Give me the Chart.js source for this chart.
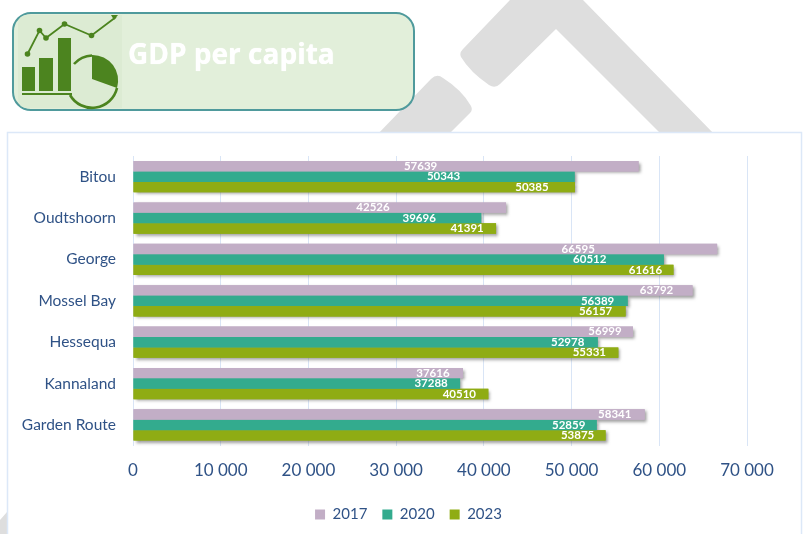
<!DOCTYPE html>
<html>
<head>
<meta charset="utf-8">
<title>GDP per capita</title>
<script src="https://cdn.jsdelivr.net/npm/chart.js@4"></script>
<style>
    html, body { margin: 0; padding: 0; background: #fff; overflow: hidden; }
    #page { position: relative; width: 805px; height: 534px; overflow: hidden; }
    #backdrop, #chart { position: absolute; left: 0; top: 0; }
    #heading {
        position: absolute; left: 128px; top: 34px;
        font: bold 28px "Open Sans", sans-serif; color: #fff;
        text-shadow: 0 0 1px #fff;
    }
</style>
</head>
<body>
<div id="page">
    <svg id="backdrop" width="805" height="534">
        <!-- watermark behind the panel -->
        <path d="M510 0 L583 0 L717 137 L664 137 L556 29 L500 84 Q495 89 489 85 Q470 72 461 57 Q459 53 463 49 Z" fill="#dedede"/>
        <path d="M375 137 L431 79 Q437 73 443 78 Q462 90 471 106 Q473 110 470 113 L446 137 Z" fill="#dedede"/>
        <path d="M0 520 L14 504 L14 534 L0 534 Z" fill="#dedede"/>
        <!-- panel -->
        <rect x="7.5" y="132.5" width="794" height="410" fill="#fff" stroke="#dce8f8" stroke-width="1.5"/>
        <!-- header box -->
        <rect x="13" y="13" width="401" height="97" rx="18" fill="#e2efda" stroke="#4f9a9c" stroke-width="2"/>
        <path d="M18 24 Q18 15 28 15 L122 15 L122 108 L28 108 Q18 108 18 98 Z" fill="#dcebd3"/>
        <!-- icon -->
        <g fill="#4c841f" stroke="none">
            <rect x="22" y="67" width="13" height="24"/>
            <rect x="39" y="58" width="14" height="33"/>
            <rect x="58" y="38" width="13" height="53"/>
            <rect x="22" y="93" width="50" height="2"/>
            <circle cx="27.5" cy="54" r="2.8"/><circle cx="39.5" cy="30.5" r="2.8"/>
            <circle cx="46" cy="38" r="2.8"/><circle cx="64.5" cy="24" r="2.8"/>
            <circle cx="91.5" cy="35.5" r="2.8"/>
            <path d="M92 55 A25.5 25.5 0 0 1 117 88 L92 79 Z"/>
            <path d="M118 15 L111 15 L114 20 Z"/>
        </g>
        <path d="M27.5 54 L39.5 30.5 L46 38 L64.5 24 L91.5 35.5 L116 17" fill="none" stroke="#4c841f" stroke-width="1.8"/>
        <path d="M74 64 A25.5 25.5 0 0 1 92 55.5 M117 88 A25.5 25.5 0 0 1 70 95" fill="none" stroke="#4c841f" stroke-width="2.6"/>
    </svg>
    <canvas id="chart" width="805" height="534"></canvas>
    <div id="heading">GDP per capita</div>
</div>
<script>
    const categories = ['Bitou', 'Oudtshoorn', 'George', 'Mossel Bay', 'Hessequa', 'Kannaland', 'Garden Route'];
    const seriesNames = ['2017', '2020', '2023'];
    const values2017 = [57639, 42526, 66595, 63792, 56999, 37616, 58341];
    const values2020 = [50343, 39696, 60512, 56389, 52978, 37288, 52859];
    const values2023 = [50385, 41391, 61616, 56157, 55331, 40510, 53875];

    // the labels in the original are hand-dragged, px left of the bar end
    const labelShift2017 = [218, 133, 139, 36, 28, 30, 30];
    const labelShift2020 = [131, 62, 74, 30, 30, 29, 28];
    const labelShift2023 = [43, 29, 28, 30, 29, 29, 28];
    const labelShifts = [labelShift2017, labelShift2020, labelShift2023];

    const inkBlue = '#2f5286';

    // first pass paints every bar with a shadow, the normal draw then covers
    // the shadows that would fall on a neighbour bar
    const barShadow = {
        id: 'barShadow',
        beforeDatasetsDraw(chart) {
            const ctx = chart.ctx;
            ctx.save();
            ctx.shadowColor = 'rgba(90,90,90,0.6)';
            ctx.shadowBlur = 3;
            ctx.shadowOffsetX = 2;
            ctx.shadowOffsetY = 2;
            chart.data.datasets.forEach(function(ds, d) {
                chart.getDatasetMeta(d).data.forEach(function(bar) {
                    bar.draw(ctx);
                });
            });
            ctx.restore();
        }
    };

    const barLabels = {
        id: 'barLabels',
        afterDatasetsDraw(chart) {
            const ctx = chart.ctx;
            ctx.save();
            ctx.font = 'bold 11.5px Lato, sans-serif';
            ctx.fillStyle = '#fff';
            ctx.textAlign = 'center';
            ctx.textBaseline = 'middle';
            chart.data.datasets.forEach(function(ds, d) {
                chart.getDatasetMeta(d).data.forEach(function(bar, i) {
                    ctx.fillText(String(ds.data[i]), bar.x - labelShifts[d][i], bar.y);
                });
            });
            ctx.restore();
        }
    };

    // legend sits centred on the panel, not on the padded chart box
    const legendNudge = {
        id: 'legendNudge',
        afterLayout(chart) {
            const legend = chart.legend;
            legend.left += 35;
            legend.right += 35;
            legend.top -= 4;
            legend.bottom -= 4;
        }
    };

    new Chart(document.getElementById('chart').getContext('2d'), {
        type: 'bar',
        data: {
            labels: categories,
            datasets: [
                { label: seriesNames[0], data: values2017, backgroundColor: '#c2aec6' },
                { label: seriesNames[1], data: values2020, backgroundColor: '#33ab8e' },
                { label: seriesNames[2], data: values2023, backgroundColor: '#8fac14' }
            ]
        },
        options: {
            indexAxis: 'y',
            responsive: false,
            animation: false,
            categoryPercentage: 0.756,
            barPercentage: 1,
            layout: { padding: { left: 0, right: 58, top: 156, bottom: -2 } },
            scales: {
                x: {
                    min: 0,
                    max: 70000,
                    ticks: {
                        stepSize: 10000,
                        padding: 15,
                        color: inkBlue,
                        font: { family: 'Lato, sans-serif', size: 17 },
                        maxRotation: 0,
                        callback: function(v) {
                            return String(v).replace(/\B(?=(\d{3})+$)/g, ' ');
                        }
                    },
                    grid: { color: '#d9e5f6', drawTicks: false },
                    border: { display: false }
                },
                y: {
                    afterFit: function(scale) { scale.width = 133; },
                    ticks: {
                        padding: 9,
                        color: inkBlue,
                        font: { family: 'Lato, sans-serif', size: 15.5 }
                    },
                    grid: { display: false },
                    border: { display: true, color: '#d9e5f6' }
                }
            },
            plugins: {
                title: { display: false },
                tooltip: { enabled: false },
                legend: {
                    position: 'bottom',
                    labels: {
                        boxWidth: 10,
                        boxHeight: 10,
                        padding: 15,
                        color: inkBlue,
                        font: { family: 'Lato, sans-serif', size: 15 }
                    }
                }
            }
        },
        plugins: [barShadow, barLabels, legendNudge]
    });
</script>
</body>
</html>
